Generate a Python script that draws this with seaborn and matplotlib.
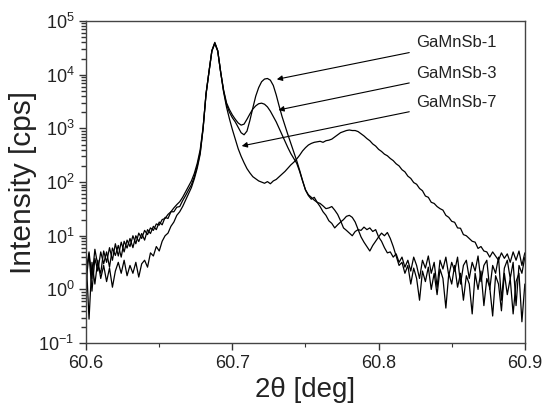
import numpy as np
import pandas as pd
import matplotlib
matplotlib.use("Agg")
import matplotlib.pyplot as plt
from matplotlib.ticker import MultipleLocator, FormatStrFormatter, NullFormatter, FixedLocator
import seaborn as sns

# scan angle (deg), shared by the three samples
two_theta = [
    60.600, 60.602, 60.604, 60.606, 60.608, 60.610, 60.612, 60.614, 60.616, 60.618,
    60.620, 60.622, 60.624, 60.626, 60.628, 60.630, 60.632, 60.634, 60.636, 60.638,
    60.640, 60.642, 60.644, 60.646, 60.648, 60.650, 60.652, 60.654, 60.656, 60.658,
    60.660, 60.662, 60.664, 60.666, 60.668, 60.670, 60.672, 60.674, 60.676, 60.678,
    60.680, 60.682, 60.684, 60.686, 60.688, 60.690, 60.692, 60.694, 60.696, 60.698,
    60.700, 60.702, 60.704, 60.706, 60.708, 60.710, 60.712, 60.714, 60.716, 60.718,
    60.720, 60.722, 60.724, 60.726, 60.728, 60.730, 60.732, 60.734, 60.736, 60.738,
    60.740, 60.742, 60.744, 60.746, 60.748, 60.750, 60.752, 60.754, 60.756, 60.758,
    60.760, 60.762, 60.764, 60.766, 60.768, 60.770, 60.772, 60.774, 60.776, 60.778,
    60.780, 60.782, 60.784, 60.786, 60.788, 60.790, 60.792, 60.794, 60.796, 60.798,
    60.800, 60.802, 60.804, 60.806, 60.808, 60.810, 60.812, 60.814, 60.816, 60.818,
    60.820, 60.822, 60.824, 60.826, 60.828, 60.830, 60.832, 60.834, 60.836, 60.838,
    60.840, 60.842, 60.844, 60.846, 60.848, 60.850, 60.852, 60.854, 60.856, 60.858,
    60.860, 60.862, 60.864, 60.866, 60.868, 60.870, 60.872, 60.874, 60.876, 60.878,
    60.880, 60.882, 60.884, 60.886, 60.888, 60.890, 60.892, 60.894, 60.896, 60.898,
    60.900,
]

# intensity (cps)
gamnsb_1 = [
    1.4, 4.6, 0.93, 3.8, 2.2, 5.0, 3.0, 5.0, 2.6, 5.9,
    4.3, 6.6, 4.0, 7.9, 5.9, 8.9, 6.0, 10, 7.8, 11,
    8.3, 13, 11, 15, 13, 18, 16, 22, 21, 28,
    28, 34, 35, 45, 56, 71, 89, 126, 200, 355,
    1000, 4500, 11200, 28000, 39000, 28000, 11200, 5000, 2800, 2000,
    1580, 1320, 1050, 830, 760, 890, 1410, 2400, 4000, 5750,
    7400, 8300, 8500, 7900, 6300, 4200, 2600, 1660, 1120, 760,
    525, 363, 250, 166, 107, 71, 56, 48, 52, 42,
    35, 28, 24, 19, 17, 14, 16, 18, 20, 23,
    24, 22, 18, 13, 9.5, 7.6, 6.3, 5.2, 6.6, 7.9,
    9.5, 11.2, 10, 11.5, 8.9, 6.3, 4.2, 2.8, 3.2, 2.0,
    2.8, 1.26, 2.5, 1.6, 0.63, 2.2, 1.4, 2.6, 1.0, 2.0,
    0.8, 2.4, 1.6, 0.45, 2.0, 1.26, 2.8, 1.1, 2.0, 0.63,
    1.8, 1.26, 0.35, 2.0, 1.0, 2.2, 0.5, 1.6, 1.1, 0.32,
    1.8, 1.26, 0.4, 2.0, 0.8, 1.6, 0.35, 1.4, 2.0, 0.25,
    1.26,
]

gamnsb_3 = [
    4.0, 0.28, 3.2, 1.26, 3.5, 1.6, 2.8, 1.4, 2.5, 1.1,
    2.2, 3.2, 2.0, 3.5, 1.8, 2.8, 2.0, 3.2, 1.7, 3.0,
    3.5, 2.6, 4.8, 4.2, 6.3, 5.2, 7.9, 10, 11.2, 15,
    18, 24, 28, 35, 46, 60, 79, 115, 182, 330,
    1000, 4300, 11200, 27500, 38000, 27500, 11200, 5200, 3000, 2240,
    1780, 1480, 1260, 1150, 1200, 1480, 1860, 2290, 2630, 2880,
    2950, 2820, 2510, 2090, 1660, 1320, 1000, 760, 575, 436,
    339, 275, 224, 158, 105, 72, 58, 52, 46, 42,
    40, 36, 32, 33, 35, 30, 25, 19, 14, 12.6,
    11.2, 10, 12, 13, 12.6, 14.5, 13, 14, 12, 13,
    9.5, 7.9, 6.0, 4.8, 5.0, 4.0, 4.6, 3.2, 4.0, 2.6,
    3.5, 2.2, 4.0, 2.8, 1.6, 3.5, 2.5, 4.2, 2.0, 3.2,
    1.1, 3.5, 2.4, 4.0, 1.8, 3.2, 2.2, 4.0, 1.26, 2.8,
    3.5, 1.6, 3.2, 2.2, 4.2, 1.4, 2.8, 3.5, 1.0, 2.8,
    2.0, 4.0, 0.63, 2.5, 3.5, 1.6, 3.2, 0.5, 2.8, 2.0,
    4.0,
]

gamnsb_7 = [
    2.2, 5.0, 1.6, 5.6, 2.8, 2.0, 5.2, 3.2, 6.0, 3.5,
    7.1, 4.2, 7.6, 5.0, 8.3, 6.3, 10, 7.1, 11.2, 8.9,
    12.6, 10.5, 14, 12.6, 16.6, 15.8, 20, 21, 25, 28,
    33, 38, 43, 52, 66, 83, 105, 145, 224, 400,
    1050, 4300, 11200, 28000, 40000, 28000, 11200, 4800, 2500, 1510,
    955, 630, 417, 302, 229, 178, 148, 126, 115, 105,
    100, 95, 102, 93, 105, 112, 126, 141, 158, 182,
    209, 234, 269, 316, 380, 437, 490, 525, 550, 562,
    575, 550, 589, 603, 631, 692, 759, 832, 871, 912,
    933, 912, 912, 871, 794, 724, 646, 589, 513, 468,
    407, 372, 331, 309, 275, 251, 219, 200, 170, 155,
    129, 117, 98, 91, 76, 69, 55, 52, 42, 40,
    35, 32, 30, 24, 22, 18.6, 17.8, 14, 13.8, 10.5,
    10, 8.9, 7.9, 7.6, 5.8, 6.3, 5.2, 5.0, 4.0, 5.0,
    4.2, 3.5, 4.8, 3.8, 4.6, 3.2, 5.0, 3.5, 5.2, 2.8,
    4.8,
]

sample_names = ["GaMnSb-1", "GaMnSb-3", "GaMnSb-7"]

df = pd.concat([
    pd.DataFrame({"two_theta": two_theta, "intensity": vals, "sample": name})
    for name, vals in zip(sample_names, [gamnsb_1, gamnsb_3, gamnsb_7])
])

sns.set_style("ticks")
plt.rcParams["font.family"] = ["Liberation Sans", "DejaVu Sans"]
plt.rcParams["ytick.minor.size"] = 3.5
plt.rcParams["ytick.minor.width"] = 1.0
plt.rcParams["ytick.minor.visible"] = True

fig = plt.figure(figsize=(5.45, 4.08), dpi=100)
ax = fig.add_axes([0.158, 0.159, 0.805, 0.7895])

sns.lineplot(data=df, x="two_theta", y="intensity", hue="sample",
             palette=["black"] * 3, estimator=None, sort=False,
             linewidth=0.9, legend=False, ax=ax)

ax.set_yscale("log")
ax.set_ylim(0.1, 1e5)
ax.set_xlim(60.6, 60.9)
ax.set_xticks([60.6, 60.7, 60.8, 60.9])
ax.xaxis.set_minor_locator(MultipleLocator(0.05))
ax.xaxis.set_major_formatter(FormatStrFormatter("%.1f"))
minor_y = [m * 10.0 ** e for e in range(-1, 5) for m in range(2, 10)]
ax.yaxis.set_minor_locator(FixedLocator(minor_y))
ax.yaxis.set_minor_formatter(NullFormatter())

ax.tick_params(which="major", direction="out", length=5, width=1,
               labelsize=13, colors="#333333", labelcolor="#222222")
ax.xaxis.set_tick_params(which="minor", direction="out", length=3, width=0.8,
                         color="#333333")
ax.yaxis.set_tick_params(which="minor", direction="out", length=3.5, width=1.0,
                         color="#333333", left=True)
for side in ["left", "right", "top", "bottom"]:
    ax.spines[side].set_color("#444444")
    ax.spines[side].set_linewidth(1.0)

ax.set_xlabel("2θ [deg]", fontsize=20, color="#222222", labelpad=4)
ax.set_ylabel("Intensity [cps]", fontsize=21.5, color="#222222", labelpad=1)

# labels with arrows pointing to each curve
text_at = [(60.826, 39000), (60.826, 10700), (60.826, 3100)]
tip_at = [(60.7304, 8200), (60.7315, 2200), (60.7064, 470)]
for name, (tx, ty), (px, py) in zip(sample_names, text_at, tip_at):
    ax.annotate(name, xy=(px, py), xytext=(tx, ty), fontsize=12,
                ha="left", va="center", color="#222222",
                arrowprops=dict(arrowstyle="-|>", color="black", lw=0.8,
                                mutation_scale=8, shrinkA=3, shrinkB=0))

fig.savefig("out.png", dpi=100)
